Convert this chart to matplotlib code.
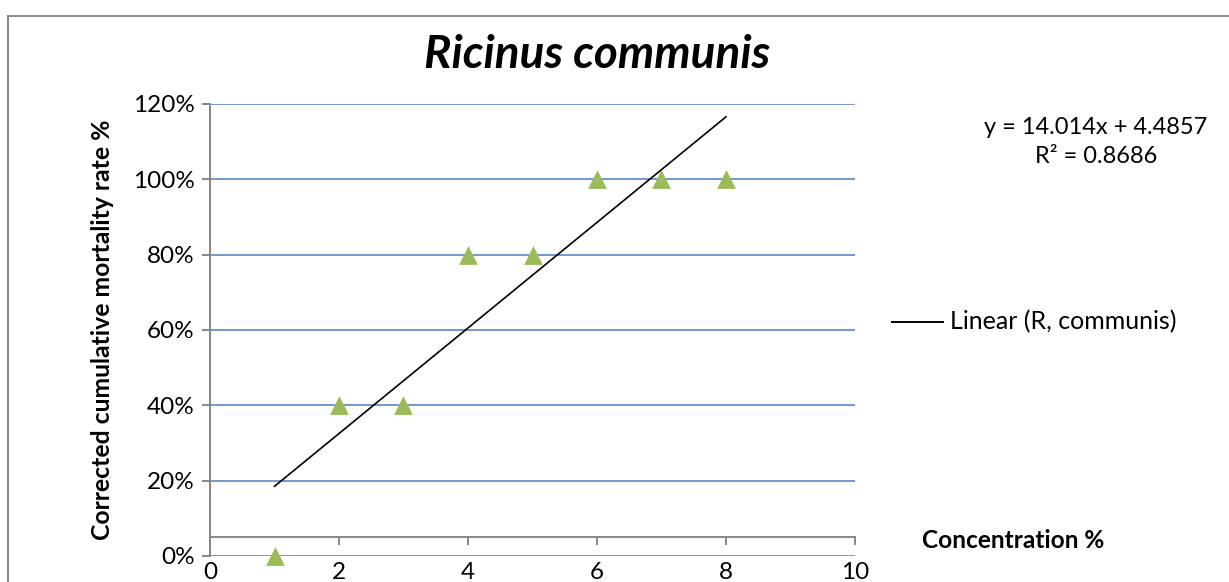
import numpy as np
import matplotlib.pyplot as plt
from matplotlib.lines import Line2D
from matplotlib.patches import Rectangle

plt.rcParams['font.family'] = ['Lato', 'DejaVu Sans']

# concentration (%) vs corrected cumulative mortality (%)
concentration = [1, 2, 3, 4, 5, 6, 7, 8]
mortality = [0, 40, 40, 80, 80, 100, 100, 100]

# linear trendline reported for the series
slope = 14.014
intercept = 4.4857
r_squared = 0.8686

W, H = 1229, 582
fig = plt.figure(figsize=(W / 100, H / 100), dpi=100)
ax = fig.add_axes([210 / W, 1 - 556 / H, 645 / W, 452 / H])

grey = '#868686'
grid_blue = '#7397CF'

# chart frame
fig.patches.append(Rectangle((8 / W, -0.1), 1.2, 1 - 16 / H + 0.1, transform=fig.transFigure,
                             fill=False, edgecolor='#8c8c8c', linewidth=1.5))

ax.set_xlim(0, 10)
ax.set_ylim(0, 120)
ax.set_xticks(np.arange(0, 11, 2))
ax.set_yticks(np.arange(0, 121, 20))
ax.set_yticklabels([f'{v}%' for v in range(0, 121, 20)])

for v in range(0, 121, 20):
    ax.axhline(v, color=grid_blue, linewidth=1.4, zorder=1)

for side in ['top', 'right']:
    ax.spines[side].set_visible(False)
ax.spines['left'].set_color(grey)
ax.spines['left'].set_linewidth(1.4)
ax.spines['bottom'].set_color(grey)
ax.spines['bottom'].set_linewidth(1.4)
ax.spines['bottom'].set_position(('data', 5))

ax.tick_params(axis='y', direction='out', length=6, width=1.4, color=grey,
               labelsize=17.5, pad=5)
ax.tick_params(axis='x', direction='out', length=6, width=1.4, color=grey,
               labelsize=17.5, pad=12)

ax.scatter(concentration, mortality, marker='^', s=13.5 ** 2, color='#9BBB59',
           linewidths=0, zorder=3, clip_on=False)

xs = np.array([concentration[0], concentration[-1]])
ax.plot(xs, slope * xs + intercept, color='black', linewidth=1.2, zorder=4, clip_on=False)

fig.text(597 / W, 1 - 55 / H, 'Ricinus communis', fontsize=33, fontweight='bold',
         style='italic', ha='center', va='center')
fig.text(103 / W, 1 - 330 / H, 'Corrected cumulative mortality rate %', rotation=90,
         fontsize=17.8, fontweight='bold', ha='center', va='center')
fig.text(1013 / W, 1 - 541 / H, 'Concentration %', fontsize=17.6, fontweight='bold',
         ha='center', va='center')

fig.text(1096 / W, 1 - 127 / H, f'y = {slope}x + {intercept}', fontsize=17,
         ha='center', va='center')
fig.text(1096 / W, 1 - 157 / H, f'R² = {r_squared}', fontsize=17,
         ha='center', va='center')

fig.lines.append(Line2D([892 / W, 943 / W], [1 - 322 / H] * 2, transform=fig.transFigure,
                        color='black', linewidth=1.4))
fig.text(950 / W, 1 - 322 / H, 'Linear (R, communis)', fontsize=18, ha='left', va='center')

fig.savefig('out.png', dpi=100)
